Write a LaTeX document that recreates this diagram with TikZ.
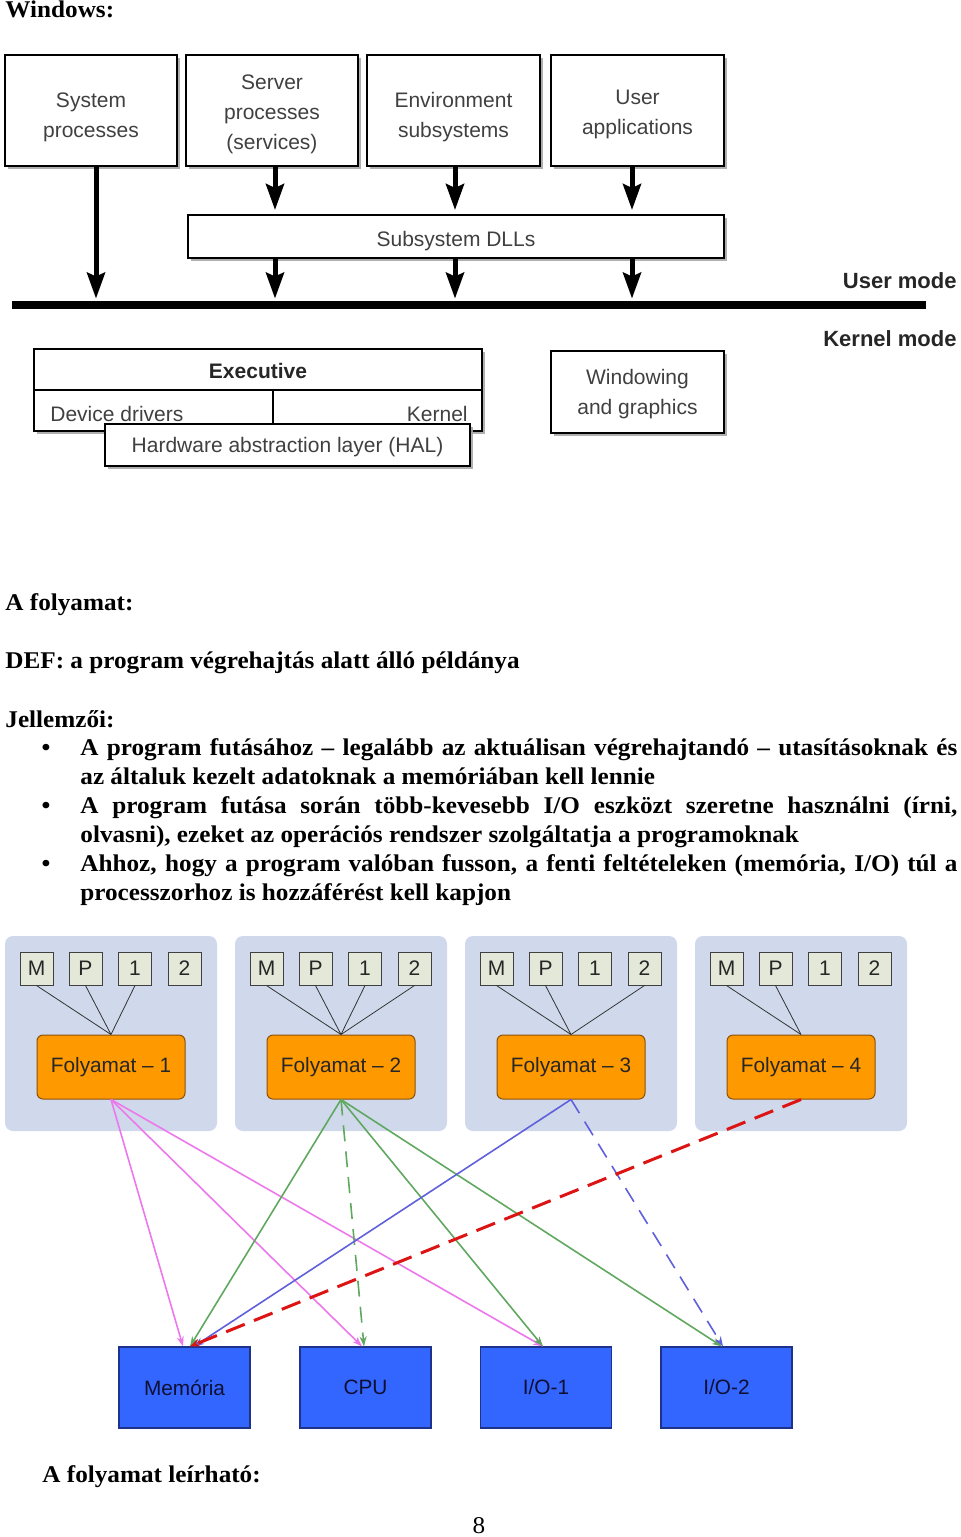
\documentclass[tikz,border=0pt]{standalone}
\usepackage{fontspec}
\setmainfont{Liberation Serif}[FakeStretch=1.05]
\setsansfont{Liberation Sans}
\usetikzlibrary{arrows.meta,shadows,calc}
\definecolor{panelc}{RGB}{207,217,235}
\definecolor{smallc}{RGB}{228,232,216}
\definecolor{orangec}{RGB}{255,153,0}
\definecolor{orangeb}{RGB}{140,80,10}
\definecolor{bluec}{RGB}{51,102,255}
\definecolor{blueb}{RGB}{30,50,140}
\definecolor{magc}{RGB}{236,120,236}
\definecolor{greenc}{RGB}{96,168,96}
\definecolor{bluel}{RGB}{96,96,220}
\definecolor{redc}{RGB}{220,20,20}
\newcommand{\tup}[1]{\rule{0pt}{#1}}
\begin{document}
\begin{tikzpicture}[x=0.5pt,y=-0.5pt,
  bodytext/.style={inner sep=0pt, anchor=base west, font=\bfseries\fontsize{12}{14.4}\selectfont},
  winbox/.style={draw=black, line width=1pt, fill=white, inner sep=0pt, align=center,
     font=\sffamily\fontsize{10.5}{15}\selectfont, text=black!75,
     drop shadow={shadow xshift=1.5pt, shadow yshift=-1.5pt, fill=black!35, opacity=0.9}},
  wintext/.style={inner sep=0pt, font=\sffamily\fontsize{10.5}{15}\selectfont, text=black!75},
  modetext/.style={inner sep=0pt, anchor=base east, font=\sffamily\bfseries\fontsize{11}{13}\selectfont, text=black!85},
  bigarrow/.style={line width=2.5pt, -{Stealth[length=13pt,width=9pt,inset=2pt]}},
  panel/.style={fill=panelc, rounded corners=4pt, minimum width=106pt, minimum height=97.5pt, inner sep=0pt},
  smallbox/.style={draw=black!75, line width=0.5pt, fill=smallc, minimum size=16.5pt, inner sep=0pt,
     font=\sffamily\fontsize{10.5}{12}\selectfont, text=black!85},
  procbox/.style={draw=orangeb, line width=0.5pt, fill=orangec, rounded corners=3pt, minimum width=74pt,
     minimum height=32pt, inner sep=0pt, font=\sffamily\fontsize{10.4}{12}\selectfont, text=black!85},
  resbox/.style={draw=blueb, line width=0.6pt, fill=bluec, minimum width=65.5pt, minimum height=40.5pt,
     inner sep=0pt, font=\sffamily\fontsize{10.4}{12}\selectfont, text={rgb,255:red,15;green,15;blue,50}},
  thin/.style={draw=black!80, line width=0.4pt},
  magl/.style={draw=magc, line width=0.8pt, -{Stealth[length=5pt,width=3.5pt]}},
  grnl/.style={draw=greenc, line width=0.8pt, -{Stealth[length=5pt,width=3.5pt]}},
  blul/.style={draw=bluel, line width=0.8pt, -{Stealth[length=5pt,width=3.5pt]}},
  redl/.style={draw=redc, line width=1.5pt, dash pattern=on 10pt off 5pt, -{Stealth[length=5pt,width=4pt]}},
  dashthin/.style={dash pattern=on 8pt off 5pt}
]
\useasboundingbox (0,0) rectangle (960,1537);

% ---------- Windows architecture ----------
\node[bodytext] (wintitle) at (5,17) {Windows:};

\node[winbox, minimum width=86pt, minimum height=55.5pt] (sys) at (91,110.5) {\tup{14.5pt}System\\processes};
\node[winbox, minimum width=86pt, minimum height=55.5pt] (srv) at (272,110.5) {\tup{11.5pt}Server\\processes\\(services)};
\node[winbox, minimum width=86.5pt, minimum height=55.5pt] (env) at (453.5,110.5) {\tup{14.5pt}Environment\\subsystems};
\node[winbox, minimum width=86.5pt, minimum height=55.5pt] (usr) at (637.5,110.5) {\tup{11.5pt}User\\applications};
\node[winbox, minimum width=268pt, minimum height=21.5pt] (dll) at (456,236.5) {\tup{12.5pt}Subsystem DLLs};
\node[fill=black, inner sep=0pt, minimum width=457pt, minimum height=4pt] (bar) at (469,305) {};
\node[modetext] (umode) at (957,288) {User mode};
\node[modetext] (kmode) at (957,346) {Kernel mode};

\draw[bigarrow] ([xshift=2.5pt]sys.south) -- ([xshift=2.5pt,yshift=1pt]sys.south |- bar.north);
\draw[bigarrow, shorten >=2pt] ([xshift=1.5pt]srv.south) -- ([xshift=1.5pt]srv.south |- dll.north);
\draw[bigarrow, shorten >=2pt] ([xshift=0.75pt]env.south) -- ([xshift=0.75pt]env.south |- dll.north);
\draw[bigarrow, shorten >=2pt] ([xshift=-2.75pt]usr.south) -- ([xshift=-2.75pt]usr.south |- dll.north);
\draw[bigarrow] (dll.south -| srv.south) ++(1.5pt,0) coordinate (d1) -- ([yshift=1pt]d1 |- bar.north);
\draw[bigarrow] (dll.south -| env.south) ++(0.75pt,0) coordinate (d2) -- ([yshift=1pt]d2 |- bar.north);
\draw[bigarrow] (dll.south -| usr.south) ++(-2.75pt,0) coordinate (d3) -- ([yshift=1pt]d3 |- bar.north);

\node[winbox, minimum width=224pt, minimum height=41pt] (exec) at (258,390) {};
\draw[line width=1pt] (exec.west) -- (exec.east);
\draw[line width=1pt] ([xshift=7.5pt]exec.center) -- ([xshift=7.5pt]exec.south);
\node[wintext, font=\sffamily\bfseries\fontsize{10.5}{15}\selectfont, text=black!85] (exlabel) at (258,371) {Executive};
\node[wintext, anchor=base west] (devdrv) at (50,421) {Device drivers};
\node[wintext, anchor=base east] (kernel) at (468,421) {Kernel};
\node[winbox, minimum width=182.5pt, minimum height=21pt] (hal) at (287.5,445) {\tup{9.7pt}Hardware abstraction layer (HAL)};
\node[winbox, minimum width=86.5pt, minimum height=41pt] (wing) at (637.5,392) {\tup{9.5pt}Windowing\\and graphics};

% ---------- Text ----------
\node[bodytext] (t1) at (5,610) {A folyamat:};
\node[bodytext] (t2) at (5,668) {DEF: a program végrehajtás alatt álló példánya};
\node[bodytext] (t3) at (5,727) {Jellemzői:};
\node[bodytext, anchor=base] (b1) at (46,755) {•};
\node[bodytext, anchor=base] (b2) at (46,813) {•};
\node[bodytext, anchor=base] (b3) at (46,871) {•};
\node[bodytext] (l1) at (80,755) {\makebox[438.5pt][s]{A program futásához – legalább az aktuálisan végrehajtandó – utasításoknak és}};
\node[bodytext] (l2) at (80,784) {az általuk kezelt adatoknak a memóriában kell lennie};
\node[bodytext] (l3) at (80,813) {\makebox[438.5pt][s]{A program futása során több-kevesebb I/O eszközt szeretne használni (írni,}};
\node[bodytext] (l4) at (80,842) {olvasni), ezeket az operációs rendszer szolgáltatja a programoknak};
\node[bodytext] (l5) at (80,871) {\makebox[438.5pt][s]{Ahhoz, hogy a program valóban fusson, a fenti feltételeken (memória, I/O) túl a}};
\node[bodytext] (l6) at (80,900) {processzorhoz is hozzáférést kell kapjon};

% ---------- Process diagram ----------
\foreach \i/\xo in {1/0,2/230,3/460,4/690}{
  \node[panel] (pan\i) at (111+\xo,1033.5) {};
  \node[smallbox] (p\i M) at (36.5+\xo,968.5) {M};
  \node[smallbox] (p\i P) at (85.5+\xo,968.5) {P};
  \node[smallbox] (p\i A) at (135+\xo,968.5) {1};
  \node[smallbox] (p\i B) at (184.5+\xo,968.5) {2};
  \node[procbox] (f\i) at (111+\xo,1067) {Folyamat – \i};
}
\draw[thin] (p1M.south) -- (f1.north);
\draw[thin] (p1P.south) -- (f1.north);
\draw[thin] (p1A.south) -- (f1.north);
\draw[thin] (p2M.south) -- (f2.north);
\draw[thin] (p2P.south) -- (f2.north);
\draw[thin] (p2A.south) -- (f2.north);
\draw[thin] (p2B.south) -- (f2.north);
\draw[thin] (p3M.south) -- (f3.north);
\draw[thin] (p3P.south) -- (f3.north);
\draw[thin] (p3B.south) -- (f3.north);
\draw[thin] (p4M.south) -- (f4.north);
\draw[thin] (p4P.south) -- (f4.north);

\node[resbox] (mem) at (184.5,1387.5) {Memória};
\node[resbox] (cpu) at (365.5,1387.5) {CPU};
\node[resbox] (io1) at (546,1387.5) {I/O-1};
\node[resbox] (io2) at (726.5,1387.5) {I/O-2};

\draw[magl] (f1.south) -- ([xshift=-0.75pt]mem.north);
\draw[magl] (f1.south) -- ([xshift=-1.75pt]cpu.north);
\draw[magl] (f1.south) -- ([xshift=-1.5pt]io1.north);
\draw[grnl] (f2.south) -- ([xshift=2.75pt]mem.north);
\draw[grnl, dashthin] (f2.south) -- ([xshift=-0.75pt]cpu.north);
\draw[grnl] (f2.south) -- ([xshift=-1.5pt]io1.north);
\draw[grnl] (f2.south) -- ([xshift=-2.25pt]io2.north);
\draw[blul] (f3.south) -- ([xshift=4.75pt]mem.north);
\draw[blul, dashthin] (f3.south) -- ([xshift=-1.75pt]io2.north);
\draw[redl] (f4.south) -- ([xshift=2.75pt]mem.north);

\node[bodytext] (t4) at (42,1482) {A folyamat leírható:};
\node[inner sep=0pt, anchor=base, font=\fontsize{12}{14.4}\selectfont] (pg) at (479,1533) {8};
\end{tikzpicture}
\end{document}
